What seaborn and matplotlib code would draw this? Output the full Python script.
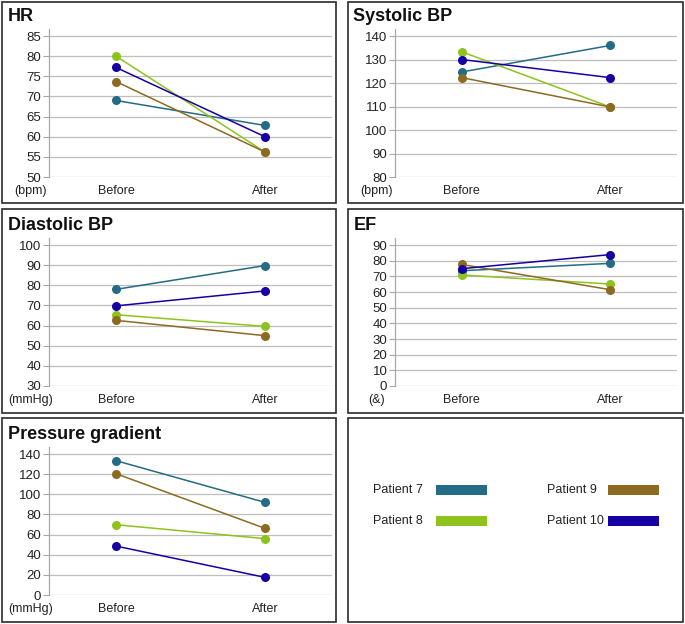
import numpy as np
import pandas as pd
import matplotlib
matplotlib.use("Agg")
import matplotlib.pyplot as plt
from matplotlib.patches import Rectangle
import seaborn as sns

sns.set_style("white")
plt.rcParams['font.family'] = ['Liberation Sans', 'DejaVu Sans']

# ---------------- data ----------------
patients = ['Patient 7', 'Patient 8', 'Patient 9', 'Patient 10']
times = ['Before', 'After']
colors = ['#246B85', '#8EC31E', '#8C6A21', '#1700A3']

hr_before = [69.0, 80.0, 73.7, 77.2]
hr_after = [62.8, 56.2, 56.2, 60.0]
sys_before = [124.7, 133.3, 122.3, 130.0]
sys_after = [136.0, 109.8, 109.8, 122.3]
dia_before = [78.0, 65.4, 62.6, 69.8]
dia_after = [89.8, 59.6, 55.0, 77.2]
ef_before = [73.6, 70.9, 77.6, 74.9]
ef_after = [78.3, 65.1, 61.5, 83.9]
pg_before = [133.4, 69.8, 120.5, 48.6]
pg_after = [92.0, 56.0, 66.2, 17.5]

panel_titles = ['HR', 'Systolic BP', 'Diastolic BP', 'EF', 'Pressure gradient']
panel_units = ['(bpm)', '(bpm)', '(mmHg)', '(&)', '(mmHg)']
panel_ticks = [list(range(50, 86, 5)), list(range(80, 141, 10)),
               list(range(30, 101, 10)), list(range(0, 91, 10)),
               list(range(0, 141, 20))]
panel_data = [(hr_before, hr_after), (sys_before, sys_after),
              (dia_before, dia_after), (ef_before, ef_after),
              (pg_before, pg_after)]

rows = []
for title, (bef, aft) in zip(panel_titles, panel_data):
    for p, b, a in zip(patients, bef, aft):
        rows.append(dict(measure=title, patient=p, time='Before', value=b))
        rows.append(dict(measure=title, patient=p, time='After', value=a))
df = pd.DataFrame(rows)
df['pos'] = df['time'].map({t: i for i, t in enumerate(times)})

# ---------------- layout ----------------
W, H = 685, 624
fig = plt.figure(figsize=(W / 100, H / 100), dpi=100)
fig.patch.set_facecolor('white')


def fx(px):
    return px / W


def fy(py):
    return 1 - py / H


# boxes (x0, y0, x1, y1) in pixels
boxes = [(1.5, 1.5, 336, 203), (348, 1.5, 683, 203),
         (1.5, 209, 336, 413), (348, 209, 683, 413),
         (1.5, 418, 336, 622), (348, 418, 683, 622)]
for (x0, y0, x1, y1) in boxes:
    fig.patches.append(Rectangle((fx(x0), fy(y1)), fx(x1) - fx(x0), fy(y0) - fy(y1),
                                 transform=fig.transFigure, fill=False,
                                 edgecolor='#2a2a2a', linewidth=1.2, zorder=0))

# axes rects: left, top, right, bottom (pixels)
ax_rects = [(49, 29, 332, 177), (395, 29, 677, 177),
            (49, 238, 332, 386), (395, 238, 677, 386),
            (49, 447, 332, 595)]
title_pos = [(8, 21), (353, 21), (8, 230), (354, 230), (8, 439)]

grid_col = '#BEBEBE'
for i, title in enumerate(panel_titles):
    l, t, r, b = ax_rects[i]
    ax = fig.add_axes([fx(l), fy(b), fx(r) - fx(l), fy(t) - fy(b)])
    sub = df[df['measure'] == title]
    sns.lineplot(data=sub, x='pos', y='value', hue='patient', hue_order=patients,
                 palette=colors, marker='o', markersize=6.5, markeredgewidth=0,
                 linewidth=1.1, sort=False, legend=False, ax=ax, zorder=3)
    ticks = panel_ticks[i]
    ymin, ymax = ticks[0], ticks[-1]
    ax.set_ylim(ymin, ymax + 0.05 * (ymax - ymin))
    ax.set_yticks(ticks)
    ax.set_xlim(-0.45, 1.45)
    ax.set_xticks(range(len(times)))
    ax.set_xticklabels(times, fontsize=9, color='#222222')
    ax.set_xlabel('')
    ax.set_ylabel('')
    ax.tick_params(axis='x', length=0, pad=5.5)
    ax.tick_params(axis='y', length=4, width=0.8, color='#A8A8A8', pad=1.5,
                   labelsize=9.5, labelcolor='#222222', direction='out', left=True)
    ax.yaxis.grid(True, color=grid_col, linewidth=0.9)
    ax.xaxis.grid(False)
    ax.set_axisbelow(True)
    for s in ['top', 'right', 'bottom']:
        ax.spines[s].set_visible(False)
    ax.spines['left'].set_color('#A8A8A8')
    ax.spines['left'].set_linewidth(0.9)
    ax.set_facecolor('none')
    ax.annotate(panel_units[i], xy=(0, 0), xycoords='axes fraction',
                xytext=(-13.5, -5.5), textcoords='offset points',
                ha='center', va='top', fontsize=9, color='#222222')
    tx, ty = title_pos[i]
    fig.text(fx(tx), fy(ty), title, fontsize=13, fontweight='bold',
             ha='left', va='baseline', color='#111111')

# ---------------- legend panel ----------------
leg_ax = fig.add_axes([fx(348), fy(622), fx(683) - fx(348), fy(418) - fy(622)])
leg_ax.set_axis_off()
leg_ax.set_xlim(348, 683)
leg_ax.set_ylim(622, 418)
text_x = [373, 547]
bar_x = [436, 608]
row_y = [490, 521]
for k, (p, c) in enumerate(zip(patients, colors)):
    col, row = divmod(k, 2)
    leg_ax.text(text_x[col], row_y[row], p, fontsize=9, ha='left', va='center',
                color='#222222')
    leg_ax.add_patch(Rectangle((bar_x[col], row_y[row] - 5), 51, 10,
                               facecolor=c, edgecolor='none'))

fig.savefig('out.png', dpi=100, facecolor='white')
